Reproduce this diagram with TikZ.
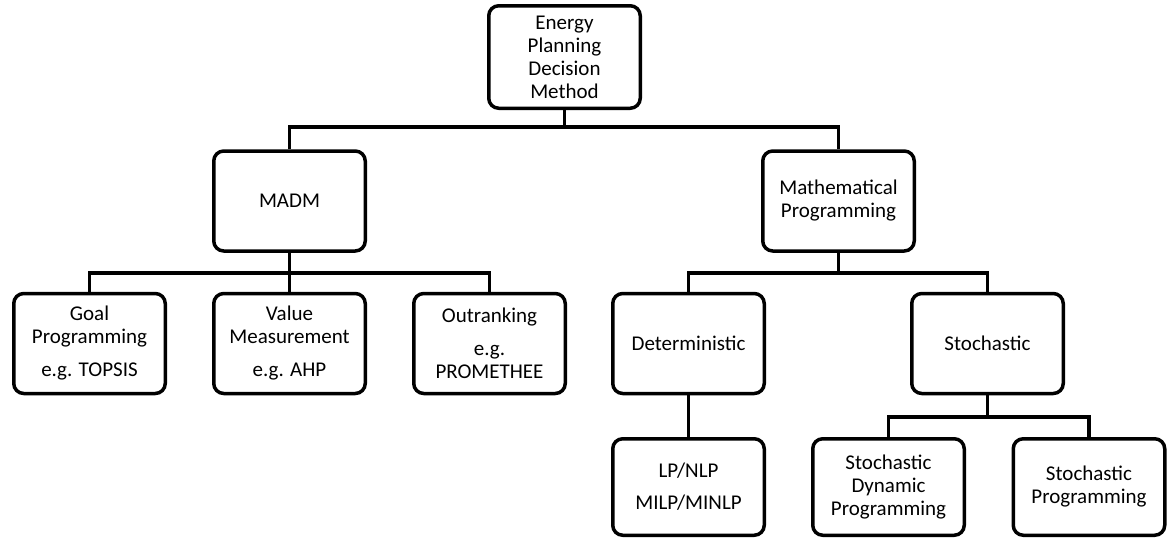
\documentclass[tikz,border=0pt]{standalone}
\usepackage{fontspec}
\setmainfont{Carlito}
\begin{document}
\begin{tikzpicture}[x=1pt,y=-1pt,
  box/.style={draw, line width=3.5pt, rounded corners=10pt,
    minimum width=151.5pt, minimum height=100pt, align=center,
    inner sep=2pt, font=\fontsize{21}{23}\selectfont},
  link/.style={line width=3.5pt}]
\useasboundingbox (0,0) rectangle (1171,539);

% top level
\node[box, minimum height=102.5pt] (root) at (564.5,57) {Energy\\Planning\\Decision\\Method};

% second level
\node[box] (madm) at (289.5,201) {MADM};
\node[box] (mp)   at (838.5,201) {Mathematical\\Programming};

% third level
\node[box] (goal)  at (89.5,343.5)  {Goal\\Programming\\[10pt]e.g. TOPSIS};
\node[box] (value) at (289.5,343.5) {Value\\Measurement\\[10pt]e.g. AHP};
\node[box] (outr)  at (489.5,343.5) {Outranking\\[10pt]e.g.\\PROMETHEE};
\node[box] (det)   at (688.5,343.5) {Deterministic};
\node[box] (sto)   at (987.5,343.5) {Stochastic};

% fourth level
\node[box, minimum height=96.5pt] (lp)  at (688.5,487) {LP/NLP\\[9pt]MILP/MINLP};
\node[box, minimum height=96.5pt] (sdp) at (888.5,487) {Stochastic\\Dynamic\\Programming};
\node[box, minimum height=96.5pt] (sp)  at (1089,487)  {Stochastic\\Programming};

% bus levels
\coordinate (bus1) at (0,127);
\coordinate (bus2) at (0,273);
\coordinate (bus3) at (0,417);

% root -> level 2
\draw[link] (root.south) -- (root.south |- bus1);
\draw[link] (madm.north) -- (madm.north |- bus1) -- (mp.north |- bus1) -- (mp.north);

% MADM -> methods
\draw[link] (madm.south) -- (madm.south |- bus2);
\draw[link] (goal.north) -- (goal.north |- bus2) -- (outr.north |- bus2) -- (outr.north);
\draw[link] (value.north) -- (value.north |- bus2);

% Mathematical programming -> branches
\draw[link] (mp.south) -- (mp.south |- bus2);
\draw[link] (det.north) -- (det.north |- bus2) -- (sto.north |- bus2) -- (sto.north);

% Deterministic -> LP
\draw[link] (det.south) -- (lp.north);

% Stochastic -> SDP / SP
\draw[link] (sto.south) -- (sto.south |- bus3);
\draw[link] (sdp.north) -- (sdp.north |- bus3) -- (sp.north |- bus3) -- (sp.north);
\end{tikzpicture}
\end{document}
